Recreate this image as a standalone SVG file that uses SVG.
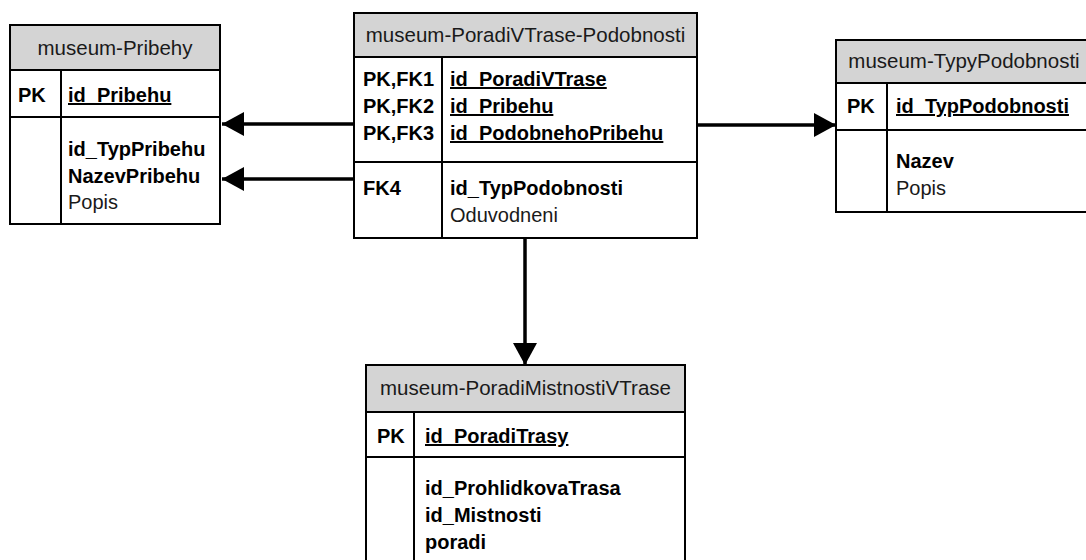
<svg xmlns="http://www.w3.org/2000/svg" width="1086" height="560" viewBox="0 0 1086 560">
<defs>
<style>
.box{fill:#fff;stroke:#000;stroke-width:2}
.hdr{fill:#d4d4d4;stroke:#000;stroke-width:2}
.ln{stroke:#000;stroke-width:2;fill:none}
text{font-family:"Liberation Sans",Arial,sans-serif;font-size:20px;fill:#000}
.ht{text-anchor:middle;font-size:20.5px;fill:#1a1a1a}
.n{fill:#1a1a1a}
.b{font-weight:bold}
.u{font-weight:bold;text-decoration:underline}
.conn{stroke:#000;stroke-width:3.5;fill:none}
</style>
<marker id="arr" markerWidth="22" markerHeight="24" refX="22" refY="12" orient="auto" markerUnits="userSpaceOnUse">
<path d="M0,0 L22,12 L0,24 Z" fill="#000"/>
</marker>
</defs>
<rect width="1086" height="560" fill="#fff"/>

<g id="connectors">
<line class="conn" x1="354" y1="124" x2="222" y2="124" marker-end="url(#arr)"/>
<line class="conn" x1="354" y1="179" x2="222" y2="179" marker-end="url(#arr)"/>
<line class="conn" x1="697" y1="125" x2="836" y2="125" marker-end="url(#arr)"/>
<line class="conn" x1="525" y1="238" x2="525" y2="365" marker-end="url(#arr)"/>
</g>

<g id="node-pribehy">
<rect class="box" x="10" y="25" width="210" height="199"/>
<rect class="hdr" x="10" y="25" width="210" height="45"/>
<line class="ln" x1="10" y1="117" x2="220" y2="117"/>
<line class="ln" x1="61" y1="70" x2="61" y2="224"/>
<text class="ht" x="115" y="55">museum-Pribehy</text>
<text class="b" x="18" y="102">PK</text>
<text class="u" x="68" y="102">id_Pribehu</text>
<text class="b" x="68" y="156">id_TypPribehu</text>
<text class="b" x="68" y="183">NazevPribehu</text>
<text class="n" x="68" y="209">Popis</text>
</g>

<g id="node-poradivtrase-podobnosti">
<rect class="box" x="354" y="13" width="343" height="225"/>
<rect class="hdr" x="354" y="13" width="343" height="44"/>
<line class="ln" x1="354" y1="162" x2="697" y2="162"/>
<line class="ln" x1="442" y1="57" x2="442" y2="238"/>
<text class="ht" x="525.5" y="42">museum-PoradiVTrase-Podobnosti</text>
<text class="b" x="363" y="86">PK,FK1</text>
<text class="b" x="363" y="113">PK,FK2</text>
<text class="b" x="363" y="140">PK,FK3</text>
<text class="u" x="450" y="86">id_PoradiVTrase</text>
<text class="u" x="450" y="113">id_Pribehu</text>
<text class="u" x="450" y="140">id_PodobnehoPribehu</text>
<text class="b" x="363" y="195">FK4</text>
<text class="b" x="450" y="195">id_TypPodobnosti</text>
<text class="n" x="450" y="222">Oduvodneni</text>
</g>

<g id="node-typypodobnosti">
<rect class="box" x="836" y="40" width="256" height="172"/>
<rect class="hdr" x="836" y="40" width="256" height="43"/>
<line class="ln" x1="836" y1="130" x2="1092" y2="130"/>
<line class="ln" x1="887" y1="83" x2="887" y2="212"/>
<text class="ht" x="964" y="68">museum-TypyPodobnosti</text>
<text class="b" x="847" y="113">PK</text>
<text class="u" x="896" y="113">id_TypPodobnosti</text>
<text class="b" x="896" y="168">Nazev</text>
<text class="n" x="896" y="195">Popis</text>
</g>

<g id="node-poradimistnostivtrase">
<rect class="box" x="366" y="365" width="319" height="205"/>
<rect class="hdr" x="366" y="365" width="319" height="47"/>
<line class="ln" x1="366" y1="457" x2="685" y2="457"/>
<line class="ln" x1="414" y1="412" x2="414" y2="570"/>
<text class="ht" x="525.5" y="395">museum-PoradiMistnostiVTrase</text>
<text class="b" x="377" y="443">PK</text>
<text class="u" x="425" y="443">id_PoradiTrasy</text>
<text class="b" x="425" y="495">id_ProhlidkovaTrasa</text>
<text class="b" x="425" y="522">id_Mistnosti</text>
<text class="b" x="425" y="549">poradi</text>
</g>
</svg>
